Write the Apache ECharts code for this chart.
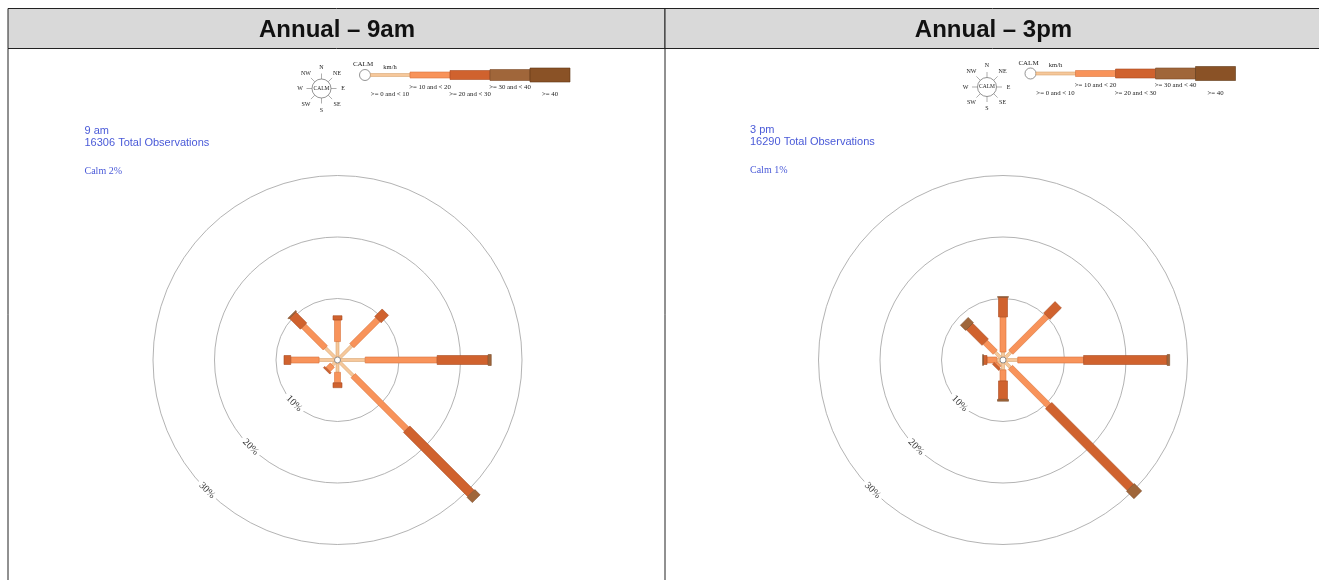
<!DOCTYPE html>
<html>
<head>
<meta charset="utf-8">
<script src="https://cdn.jsdelivr.net/npm/echarts@6/dist/echarts.min.js"></script>
<style>
  html, body { margin: 0; padding: 0; background: #ffffff; }
  #chart { width: 1319px; height: 580px; }
</style>
</head>
<body>
<div id="chart"></div>
<script>
// ---- Data -------------------------------------------------------------
const directions = ['N', 'NE', 'E', 'SE', 'S', 'SW', 'W', 'NW'];
const directionAngles = [0, 45, 90, 135, 180, 225, 270, 315];
const speedClasses = ['>= 0 and < 10', '>= 10 and < 20', '>= 20 and < 30', '>= 30 and < 40', '>= 40'];
const ringTicks = [10, 20, 30];
const panelTitles = ['Annual \u2013 9am', 'Annual \u2013 3pm'];
const panelTimes = ['9 am', '3 pm'];
const totalObservations = [16306, 16290];
const calmPercent = [2, 1];

// 9 am: percentage of observations per direction, per speed class (km/h)
const am0to10  = [3.0, 3.3, 4.5, 3.6, 2.0, 1.2, 3.0, 2.8];
const am10to20 = [3.5, 6.0, 11.7, 12.3, 1.7, 1.0, 4.6, 5.0];
const am20to30 = [0.7, 1.7, 8.3, 14.8, 0.8, 0.3, 1.1, 2.5];
const am30to40 = [0.0, 0.0, 0.5, 1.2, 0.0, 0.0, 0.0, 0.2];
const am40up   = [0.0, 0.0, 0.0, 0.0, 0.0, 0.0, 0.0, 0.0];

// 3 pm: percentage of observations per direction, per speed class (km/h)
const pm0to10  = [1.3, 1.8, 2.4, 1.7, 1.6, 0.9, 1.0, 1.8];
const pm10to20 = [5.7, 8.3, 10.7, 8.8, 1.8, 0.4, 1.6, 2.3];
const pm20to30 = [3.2, 2.6, 13.6, 18.8, 3.0, 0.4, 0.6, 3.6];
const pm30to40 = [0.1, 0.0, 0.4, 1.7, 0.3, 0.0, 0.1, 1.2];
const pm40up   = [0.0, 0.0, 0.0, 0.0, 0.0, 0.0, 0.0, 0.0];

const panels = [
  [am0to10, am10to20, am20to30, am30to40, am40up],
  [pm0to10, pm10to20, pm20to30, pm30to40, pm40up]
];

// ---- Styles -----------------------------------------------------------
const classColors  = ['#f6c89b', '#f8935a', '#d0622e', '#a0663a', '#8a5226'];
const classStrokes = ['#d8a470', '#d9733c', '#a84c22', '#7a4c2a', '#5e3816'];
const classWidths  = [3, 6, 9, 11, 13];
const textBlue = '#4a5ad8';
const panelDx = 665.5;

// ---- Series -----------------------------------------------------------
function speedSeries(panelIdx, classIdx) {
  const values = panels[panelIdx];
  const data = directions.map((d, i) => {
    let start = 0;
    for (let k = 0; k < classIdx; k++) start += values[k][i];
    return [start, directionAngles[i], start + values[classIdx][i]];
  });
  const halfW = classWidths[classIdx] / 2;
  return {
    type: 'custom',
    name: speedClasses[classIdx],
    coordinateSystem: 'polar',
    polarIndex: panelIdx,
    silent: true,
    z: 3 + classIdx,
    data: data,
    renderItem: function (params, api) {
      const r0 = api.value(0), ang = api.value(1), r1 = api.value(2);
      if (!(r1 - r0 > 0)) return null;
      const p0 = api.coord([r0, ang]);
      const p1 = api.coord([r1, ang]);
      const dx = p1[0] - p0[0], dy = p1[1] - p0[1];
      const len = Math.sqrt(dx * dx + dy * dy) || 1;
      const nx = -dy / len * halfW, ny = dx / len * halfW;
      return {
        type: 'polygon',
        shape: { points: [
          [p0[0] + nx, p0[1] + ny], [p1[0] + nx, p1[1] + ny],
          [p1[0] - nx, p1[1] - ny], [p0[0] - nx, p0[1] - ny]
        ] },
        style: { fill: classColors[classIdx], stroke: classStrokes[classIdx], lineWidth: 0.6 }
      };
    }
  };
}

function ringLabelSeries(panelIdx) {
  return {
    type: 'custom',
    coordinateSystem: 'polar',
    polarIndex: panelIdx,
    silent: true,
    z: 10,
    data: ringTicks.map(t => [t, 225]),
    renderItem: function (params, api) {
      const p = api.coord([api.value(0), api.value(1)]);
      return {
        type: 'text',
        x: p[0], y: p[1],
        rotation: -Math.PI / 4,
        style: {
          text: api.value(0) + '%',
          x: 0, y: 0,
          align: 'center', verticalAlign: 'middle',
          fill: '#333333',
          font: '10px "Liberation Serif", "DejaVu Serif", serif',
          backgroundColor: '#ffffff',
          padding: [0, 3]
        }
      };
    }
  };
}

function calmSeries(panelIdx) {
  return {
    type: 'custom',
    coordinateSystem: 'polar',
    polarIndex: panelIdx,
    silent: true,
    z: 12,
    data: [[0, 0]],
    renderItem: function (params, api) {
      const p = api.coord([0, 0]);
      return {
        type: 'circle',
        shape: { cx: p[0], cy: p[1], r: 3 },
        style: { fill: '#ffffff', stroke: '#777777', lineWidth: 0.8 }
      };
    }
  };
}

// ---- Decorations: table frame, legend key, compass -------------------
function legendGraphics(ox, oy) {
  const els = [];
  const serif = '"Liberation Serif", "DejaVu Serif", serif';
  // compass rose
  const cx = ox - 43.5, cy = oy + 13.5;
  els.push({ type: 'circle', shape: { cx: cx, cy: cy, r: 9.5 },
             style: { fill: '#fff', stroke: '#666', lineWidth: 0.7 } });
  els.push({ type: 'text', style: { text: 'CALM', x: cx, y: cy, align: 'center', verticalAlign: 'middle',
             font: '5.5px ' + serif, fill: '#222' } });
  directions.forEach((d, i) => {
    const a = directionAngles[i] * Math.PI / 180;
    const sx = Math.sin(a), sy = -Math.cos(a);
    els.push({ type: 'line', shape: { x1: cx + sx * 9.5, y1: cy + sy * 9.5, x2: cx + sx * 15, y2: cy + sy * 15 },
               style: { stroke: '#777', lineWidth: 0.6 } });
    const lr = (i % 2 === 0) ? 21.5 : 22;
    els.push({ type: 'text', style: { text: d, x: cx + sx * lr, y: cy + sy * lr, align: 'center',
               verticalAlign: 'middle', font: '6px ' + serif, fill: '#222' } });
  });
  // speed key
  els.push({ type: 'circle', shape: { cx: ox, cy: oy, r: 5.5 },
             style: { fill: '#fff', stroke: '#666', lineWidth: 0.7 } });
  els.push({ type: 'text', style: { text: 'CALM', x: ox - 2, y: oy - 10.5, align: 'center', verticalAlign: 'middle',
             font: '7px ' + serif, fill: '#222' } });
  els.push({ type: 'text', style: { text: 'km/h', x: ox + 25, y: oy - 8, align: 'center', verticalAlign: 'middle',
             font: '6.5px ' + serif, fill: '#222' } });
  for (let k = 0; k < speedClasses.length; k++) {
    const h = classWidths[k] + (k === 4 ? 1 : 0);
    els.push({ type: 'rect', shape: { x: k === 0 ? ox + 5.5 : ox + 5 + k * 40, y: oy - h / 2,
               width: k === 0 ? 39.5 : 40, height: h },
               style: { fill: classColors[k], stroke: classStrokes[k], lineWidth: 0.6 } });
    els.push({ type: 'text', style: { text: speedClasses[k], x: ox + 25 + k * 40,
               y: oy + (k % 2 === 0 ? 19.5 : 12), align: 'center', verticalAlign: 'middle',
               font: '6.8px ' + serif, fill: '#222' } });
  }
  return els;
}

const graphics = [];
// table header cells
graphics.push({ type: 'rect', shape: { x: 8, y: 8.5, width: 657, height: 40 },
                style: { fill: '#d9d9d9', stroke: '#222', lineWidth: 1 } });
graphics.push({ type: 'rect', shape: { x: 665, y: 8.5, width: 660, height: 40 },
                style: { fill: '#d9d9d9', stroke: '#222', lineWidth: 1 } });
// content cell borders
graphics.push({ type: 'line', shape: { x1: 8, y1: 48.5, x2: 8, y2: 590 }, style: { stroke: '#222', lineWidth: 1 } });
graphics.push({ type: 'line', shape: { x1: 665, y1: 48.5, x2: 665, y2: 590 }, style: { stroke: '#222', lineWidth: 1 } });
[0, 1].forEach(p => {
  const dx = p * panelDx;
  const dy = p === 0 ? 0 : -1.5;
  graphics.push({ type: 'text', style: { text: panelTitles[p], x: 337 + dx - (p ? 9 : 0), y: 30,
                  align: 'center', verticalAlign: 'middle',
                  font: 'bold 24px "Liberation Sans", Arial, sans-serif', fill: '#111' } });
  graphics.push({ type: 'text', style: { text: panelTimes[p] + '\n' + totalObservations[p] + ' Total Observations',
                  x: 86 + dx - 1.5, y: 124.5 + dy * 0.5, lineHeight: 12, align: 'left', verticalAlign: 'top',
                  font: '11px "Liberation Sans", Arial, sans-serif', fill: textBlue } });
  graphics.push({ type: 'text', style: { text: 'Calm ' + calmPercent[p] + '%', x: 86 + dx - 1.5, y: 171.5 + dy * 0.5,
                  align: 'left', verticalAlign: 'middle',
                  font: '10px "Liberation Serif", "DejaVu Serif", serif', fill: textBlue } });
  legendGraphics(365 + dx, 75 + dy).forEach(e => graphics.push(e));
});

// ---- Chart ------------------------------------------------------------
const polarCommon = { radius: 184.5 };
const series = [];
[0, 1].forEach(p => {
  for (let k = 0; k < speedClasses.length; k++) series.push(speedSeries(p, k));
  series.push(ringLabelSeries(p));
  series.push(calmSeries(p));
});

function radiusAxis(idx) {
  return {
    polarIndex: idx, type: 'value', min: 0, max: 30, interval: 10,
    axisLine: { show: false }, axisTick: { show: false }, axisLabel: { show: false },
    splitLine: { show: true, lineStyle: { color: '#a0a0a0', width: 0.8 } }
  };
}
function angleAxis(idx) {
  return {
    polarIndex: idx, type: 'value', min: 0, max: 360, startAngle: 90, clockwise: true,
    axisLine: { show: false }, axisTick: { show: false }, axisLabel: { show: false },
    splitLine: { show: false }
  };
}

const chart = echarts.init(document.getElementById('chart'), null, { renderer: 'canvas' });
chart.setOption({
  animation: false,
  backgroundColor: '#ffffff',
  polar: [
    Object.assign({ center: [337.5, 360] }, polarCommon),
    Object.assign({ center: [1003, 360] }, polarCommon)
  ],
  radiusAxis: [radiusAxis(0), radiusAxis(1)],
  angleAxis: [angleAxis(0), angleAxis(1)],
  graphic: { elements: graphics },
  series: series
});
</script>
</body>
</html>
